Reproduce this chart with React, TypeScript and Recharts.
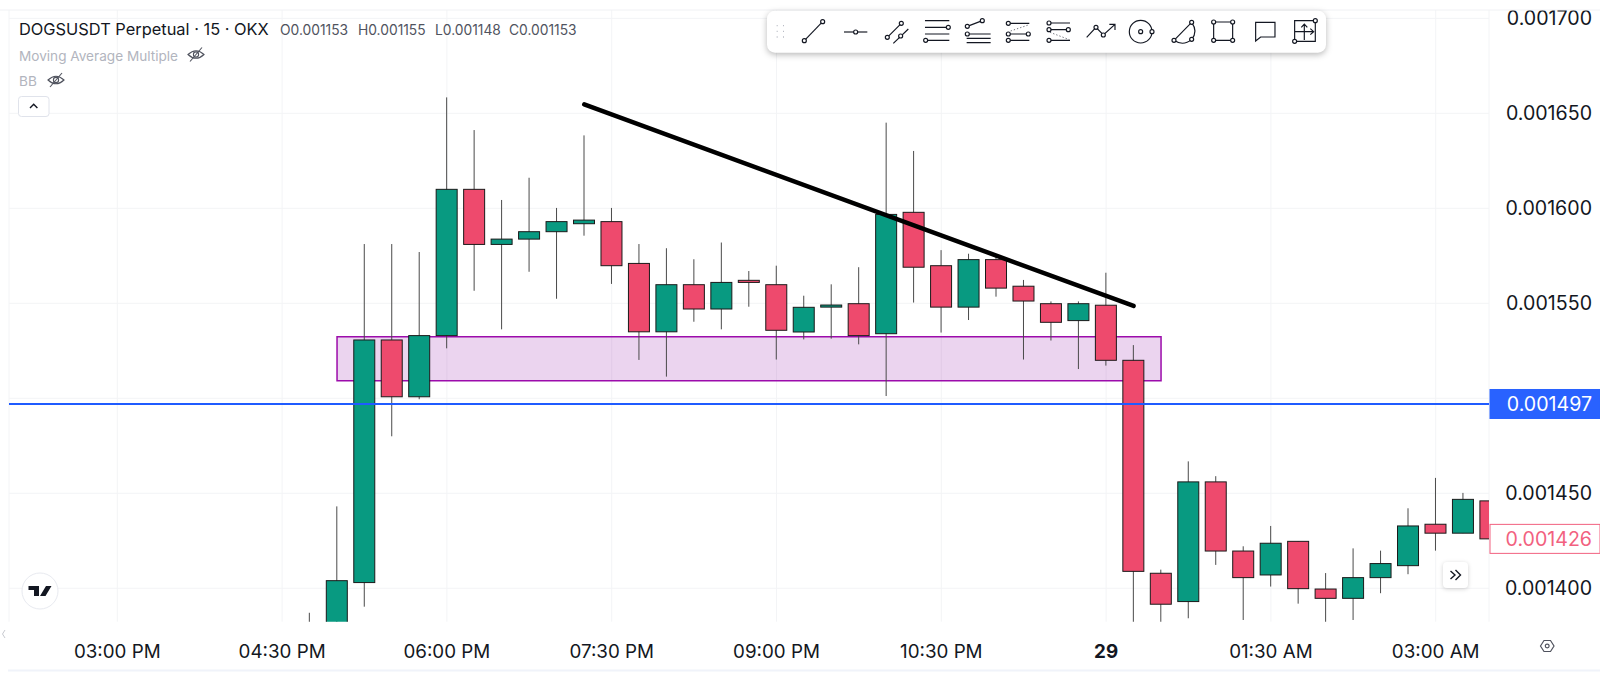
import {
  Bar,
  CartesianGrid,
  ComposedChart,
  ReferenceArea,
  ReferenceLine,
  XAxis,
  YAxis,
} from 'recharts';

// bar number, counted in 15 minute steps from 03:00 PM
const bars = [7, 8, 9, 10, 11, 12, 13, 14, 15, 16, 17, 18, 19, 20, 21, 22, 23, 24, 25, 26, 27, 28, 29, 30, 31, 32, 33, 34, 35, 36, 37, 38, 39, 40, 41, 42, 43, 44, 45, 46, 47, 48, 49, 50];
const opens = [0.00137, 0.001378, 0.001403, 0.0015307, 0.0015008, 0.001533, 0.00161, 0.001581, 0.0015838, 0.0015877, 0.0015919, 0.001593, 0.001571, 0.001535, 0.0015598, 0.001547, 0.0015621, 0.0015598, 0.0015349, 0.001548, 0.0015498, 0.001534, 0.0015979, 0.0015698, 0.001548, 0.001573, 0.001559, 0.0015498, 0.0015409, 0.001549, 0.00152, 0.0014079, 0.001393, 0.001456, 0.0014196, 0.001407, 0.0014247, 0.0013996, 0.0013947, 0.0014056, 0.0014119, 0.0014337, 0.001429, 0.001446];
const highs = [0.0013871, 0.0014431, 0.0015812, 0.0015812, 0.001577, 0.0016584, 0.0016412, 0.0016044, 0.0016161, 0.0016002, 0.0016384, 0.0016002, 0.0015812, 0.001579, 0.0015732, 0.001582, 0.001567, 0.0015698, 0.001554, 0.00156, 0.001569, 0.0016451, 0.0016302, 0.001578, 0.0015761, 0.0015746, 0.0015623, 0.001551, 0.001551, 0.0015661, 0.001528, 0.0014098, 0.0014668, 0.001459, 0.0014221, 0.0014328, 0.0014247, 0.001408, 0.001421, 0.0014198, 0.0014421, 0.0014581, 0.0014502, 0.001446];
const lows = [0.00136, 0.001375, 0.0013903, 0.00148, 0.0014995, 0.0015263, 0.0015566, 0.0015363, 0.0015666, 0.0015524, 0.0015856, 0.0015602, 0.0015202, 0.0015114, 0.0015403, 0.0015363, 0.0015482, 0.0015204, 0.001531, 0.0015314, 0.0015284, 0.0015012, 0.0015504, 0.0015346, 0.0015412, 0.0015535, 0.0015204, 0.0015304, 0.0015154, 0.0015172, 0.00138, 0.00138, 0.0013842, 0.0014123, 0.0013833, 0.0014009, 0.0013919, 0.00138, 0.0013833, 0.0013974, 0.0014074, 0.0014198, 0.001429, 0.001426];
const closes = [0.001375, 0.001404, 0.0015307, 0.0015008, 0.001533, 0.00161, 0.001581, 0.0015838, 0.0015877, 0.001593, 0.0015938, 0.0015698, 0.001535, 0.0015598, 0.001547, 0.001561, 0.001561, 0.0015358, 0.0015479, 0.0015491, 0.001533, 0.0015968, 0.001569, 0.001548, 0.001573, 0.001558, 0.0015512, 0.00154, 0.0015498, 0.00152, 0.0014089, 0.0013916, 0.001456, 0.0014196, 0.0014056, 0.0014237, 0.0013998, 0.0013947, 0.0014056, 0.001413, 0.0014328, 0.001429, 0.0014468, 0.001426];

const gridPrices = [0.0014, 0.00145, 0.0015, 0.00155, 0.0016, 0.00165, 0.0017];
// 0.001500 sits under the alert tag, so it gets a grid line and no label
const priceLabels = [0.0014, 0.00145, 0.00155, 0.0016, 0.00165, 0.0017];
const timeTicks = [0, 6, 12, 18, 24, 30, 36, 42, 48];
const timeLabels = ['03:00 PM', '04:30 PM', '06:00 PM', '07:30 PM', '09:00 PM', '10:30 PM', '29', '01:30 AM', '03:00 AM'];

const trendStart = { bar: 17, price: 0.0016547 };
const trendEnd = { bar: 37, price: 0.0015486 };
const zone = { fromBar: 8, toBar: 38, top: 0.0015324, bottom: 0.0015093 };
const alertPrice = 0.001497;
const lastPrice = 0.001426;

const rows = bars.map((bar, i) => ({
  bar,
  open: opens[i],
  high: highs[i],
  low: lows[i],
  close: closes[i],
}));

const FONT = 'Inter, sans-serif';
const TIME_SIZE = 18.8;
const PRICE_SIZE = 19.6;
const GREEN = '#089a81';
const RED = '#ee4a6d';

function Candle(props: any) {
  const { x, y, width, height, payload } = props;
  const { open, high, low, close } = payload;
  const perPrice = height / (high - low);
  const top = y + (high - Math.max(open, close)) * perPrice;
  const bottom = y + (high - Math.min(open, close)) * perPrice;
  const mid = x + width / 2;
  return (
    <g>
      <line x1={mid} x2={mid} y1={y} y2={y + height} stroke="#4a4a4a" strokeWidth={1} />
      <rect
        x={x}
        y={top}
        width={width}
        height={Math.max(bottom - top, 1)}
        fill={close >= open ? GREEN : RED}
        stroke="#1a1a1a"
        strokeWidth={1}
      />
    </g>
  );
}

function TimeTick(props: any) {
  const { x, y, payload } = props;
  const label = timeLabels[timeTicks.indexOf(payload.value)];
  return (
    <text
      x={x}
      y={y + 28}
      textAnchor="middle"
      fontFamily={FONT}
      fontSize={TIME_SIZE}
      fontWeight={label === '29' ? 700 : 400}
      fill="#131722"
    >
      {label}
    </text>
  );
}

function PriceTag(props: any) {
  const { viewBox, value, fill, stroke, color } = props;
  const y = viewBox.y;
  return (
    <g>
      <rect x={1490} y={y - 14.5} width={110} height={29} fill={fill} stroke={stroke} />
      <text x={1592} y={y + 7} textAnchor="end" fontFamily={FONT} fontSize={PRICE_SIZE} fill={color}>
        {value.toFixed(6)}
      </text>
    </g>
  );
}

function Knob({ x, y }: { x: number; y: number }) {
  return <circle cx={x} cy={y} r={6} fill="#fff" stroke="#131722" strokeWidth={3.5} />;
}

const toolbarLeft = (
  <g transform="translate(760,5) scale(0.3333)" fill="none" stroke="#131722" strokeWidth={3.5}>
    <path d="M50 62H53M69 62H72M50 79H53M69 79H72M50 96H53M69 96H72" stroke="#b8bbc4" strokeWidth={4} />
    <path d="M133 107L188 50" />
    <Knob x={133} y={107} />
    <Knob x={188} y={50} />
    <path d="M252 81H322" />
    <Knob x={287} y={81} />
    <path d="M382 97L424 55M400 115L445 72" />
    <Knob x={382} y={97} />
    <Knob x={424} y={55} />
    <Knob x={422} y={93} />
    <path d="M495 47H568M495 67H565M495 87H568M497 106H568" />
    <Knob x={565} y={67} />
    <Knob x={497} y={106} />
    <path d="M622 64L667 47M620 87H692M620 100H692M620 113H692" />
    <Knob x={622} y={64} />
    <Knob x={667} y={47} />
    <Knob x={622} y={87} />
    <path d="M745 55H808M745 87H805M745 106H808" />
    <path d="M752 78L805 60" strokeDasharray="4 6" strokeWidth={2.5} stroke="#50535e" />
    <Knob x={745} y={55} />
    <Knob x={745} y={87} />
    <Knob x={805} y={87} />
    <Knob x={745} y={106} />
  </g>
);

const toolbarRight = (
  <g transform="translate(1040,5) scale(0.3333)" fill="none" stroke="#131722" strokeWidth={3.5}>
    <path d="M27 54H90M27 74H85M27 106H90" />
    <path d="M30 82L88 104" strokeDasharray="4 6" strokeWidth={2.5} stroke="#50535e" />
    <Knob x={27} y={54} />
    <Knob x={27} y={74} />
    <Knob x={85} y={74} />
    <Knob x={27} y={106} />
    <path d="M140 97L168 67L190 90L225 58M208 58H225V75" />
    <Knob x={168} y={67} />
    <Knob x={190} y={90} />
    <circle cx={302} cy={80} r={34} />
    <circle cx={302} cy={80} r={6} />
    <Knob x={336} y={80} />
    <path d="M402 106L455 52Q475 80 455 103Q430 125 402 106" />
    <Knob x={402} y={106} />
    <Knob x={455} y={52} />
    <Knob x={455} y={103} />
    <path d="M521 51H578V106H521Z" />
    <Knob x={521} y={51} />
    <Knob x={578} y={51} />
    <Knob x={521} y={106} />
    <Knob x={578} y={106} />
    <path d="M647 108V52H705V96H662Z" />
    <path d="M764 47H826V109H764ZM793 105V58M784 67L793 57L802 67M765 80H820M811 71L821 80L811 89" />
    <Knob x={826} y={47} />
    <Knob x={764} y={109} />
  </g>
);

function EyeOff({ x, y }: { x: number; y: number }) {
  return (
    <g transform={`translate(${x},${y})`} fill="none" stroke="#50535e" strokeWidth={1.1}>
      <path d="M-8 0Q0 -7.5 8 0Q0 7.5 -8 0Z" />
      <circle r={2.6} />
      <path d="M-6 7L6 -7" />
    </g>
  );
}

export default function App() {
  return (
    <div style={{ position: 'fixed', left: 0, top: 0, width: 1600, height: 679, background: '#fff', overflow: 'hidden' }}>
      <ComposedChart
        width={1600}
        height={679}
        data={rows}
        margin={{ top: 10, right: 0, bottom: 0, left: 9 }}
      >
        <CartesianGrid stroke="#f3f4f6" strokeWidth={1} horizontalValues={gridPrices} />
        <XAxis
          dataKey="bar"
          type="number"
          domain={[-3.943, 49.94]}
          allowDataOverflow
          ticks={timeTicks}
          interval={0}
          height={57.3}
          axisLine={false}
          tickLine={false}
          tick={<TimeTick />}
        />
        <YAxis
          orientation="right"
          width={111}
          domain={[0.0013824, 0.0017044]}
          allowDataOverflow
          ticks={priceLabels}
          interval={0}
          axisLine={false}
          tickLine={false}
          tick={{ fill: '#131722', fontFamily: FONT, fontSize: PRICE_SIZE, textAnchor: 'end', dx: 95 }}
          tickFormatter={(v: number) => v.toFixed(6)}
        />
        <ReferenceArea
          x1={zone.fromBar}
          x2={zone.toBar}
          y1={zone.bottom}
          y2={zone.top}
          fill="#9c27b0"
          fillOpacity={0.2}
          stroke="#9c0cab"
          strokeWidth={1.5}
          strokeOpacity={1}
          ifOverflow="visible"
        />
        <ReferenceLine
          segment={[
            { x: trendStart.bar, y: trendStart.price },
            { x: trendEnd.bar, y: trendEnd.price },
          ]}
          stroke="#000"
          strokeWidth={4.5}
          strokeLinecap="round"
          ifOverflow="visible"
        />
        <ReferenceLine
          y={alertPrice}
          stroke="#1f5bff"
          strokeWidth={2}
          label={<PriceTag value={alertPrice} fill="#2962ff" stroke="#2962ff" color="#fff" />}
        />
        <ReferenceLine
          y={lastPrice}
          stroke="transparent"
          label={<PriceTag value={lastPrice} fill="#fff" stroke="#f2617f" color="#f2617f" />}
        />
        <Bar
          dataKey={(d: any) => [d.low, d.high]}
          barSize={21}
          shape={<Candle />}
          isAnimationActive={false}
        />
      </ComposedChart>

      <svg width={1600} height={679} style={{ position: 'absolute', left: 0, top: 0, pointerEvents: 'none' }}>
        <line x1={0} x2={1600} y1={10} y2={10} stroke="#f0f1f4" />
        <line x1={8} x2={1600} y1={670.5} y2={670.5} stroke="#f0f3fa" strokeWidth={2} />

        <text x={19} y={35} fontFamily={FONT} fontSize={16.4} fill="#131722">
          DOGSUSDT Perpetual · 15 · OKX
        </text>
        <g fontFamily={FONT} fontSize={13.8} fill="#50535e">
          <text x={280} y={35}>O0.001153</text>
          <text x={358} y={35}>H0.001155</text>
          <text x={435} y={35}>L0.001148</text>
          <text x={509} y={35}>C0.001153</text>
        </g>
        <text x={19} y={60.5} fontFamily={FONT} fontSize={13.6} fill="#b2b5be">
          Moving Average Multiple
        </text>
        <EyeOff x={196} y={54.5} />
        <text x={19} y={86} fontFamily={FONT} fontSize={13.6} fill="#b2b5be">
          BB
        </text>
        <EyeOff x={56} y={80} />
        <rect x={18.5} y={96.5} width={30.5} height={20} rx={3} fill="#fff" stroke="#e0e3eb" />
        <path d="M30 108L33.7 104.3L37.4 108" fill="none" stroke="#131722" strokeWidth={1.4} />

        <rect x={767} y={10.7} width={559} height={42} rx={8} fill="#fff" style={{ filter: 'drop-shadow(0 2px 3px rgba(0,0,0,0.28))' }} />
        {toolbarLeft}
        {toolbarRight}

        <circle cx={40} cy={591} r={18} fill="#fff" stroke="#e8eaf0" strokeWidth={1} />
        <path d="M28.5 586H39V596H34V590H28.5ZM40 596L46 586H51.5L45.5 596Z" fill="#131722" />
        <path d="M5 630L2.5 634L5 638" fill="none" stroke="#c8cad0" strokeWidth={1} />

        <rect x={1443} y={562} width={25} height={26} rx={4} fill="#fff" style={{ filter: 'drop-shadow(0 1px 2px rgba(0,0,0,0.18))' }} />
        <path d="M1450.5 571L1455 575L1450.5 579M1455.5 570L1460.5 575L1455.5 580" fill="none" stroke="#131722" strokeWidth={1.4} />

        <path d="M1540.5 646L1544 640.5H1550.5L1554 646L1550.5 651.5H1544Z" fill="none" stroke="#50535e" strokeWidth={1.2} />
        <circle cx={1547.2} cy={646} r={1.9} fill="none" stroke="#50535e" strokeWidth={1.2} />
      </svg>
    </div>
  );
}
